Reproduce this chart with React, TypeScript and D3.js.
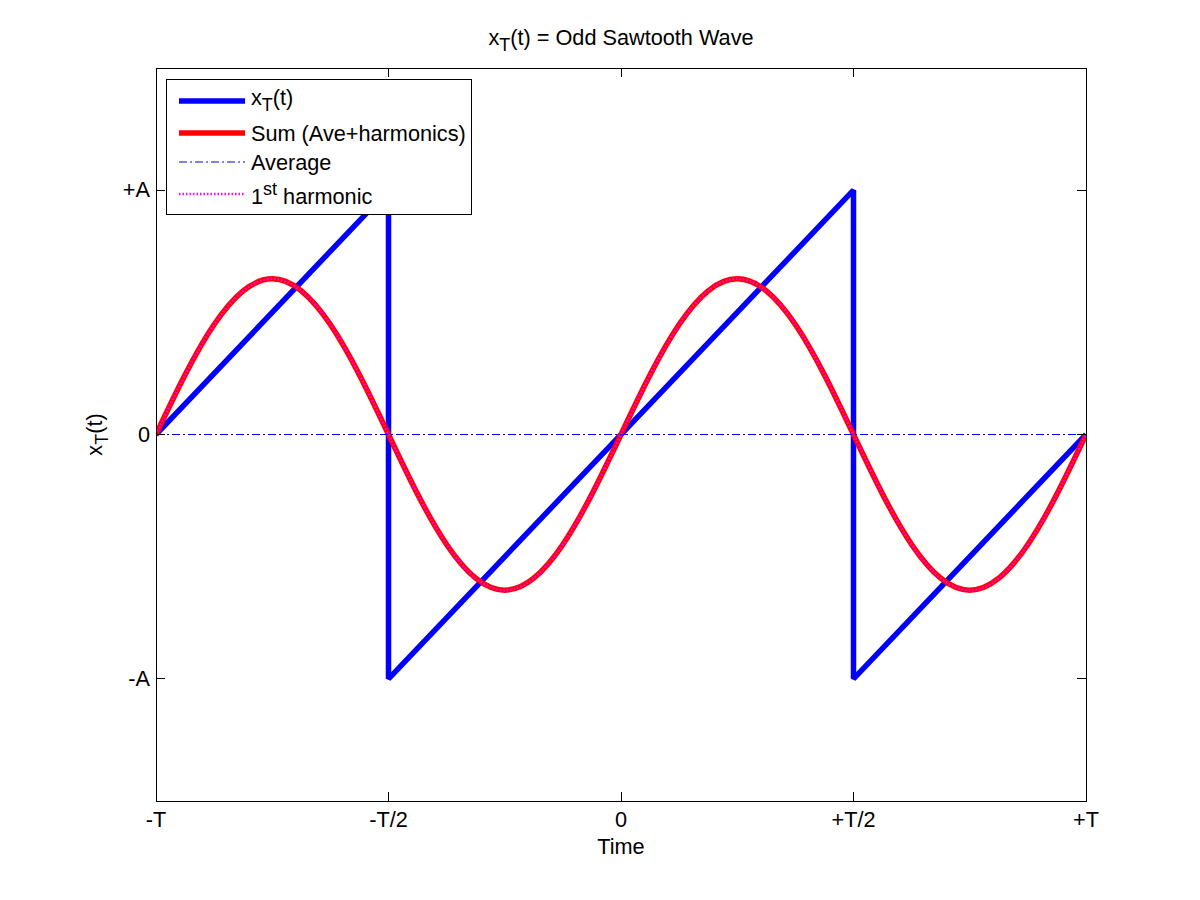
import React from 'react';
import * as d3 from 'd3';

// time in units of T, amplitude in units of A
const sawT = [-1, -0.5, -0.5, 0.5, 0.5, 1];
const sawX = [0, 1, -1, 1, -1, 0];

// 1st harmonic every T/16 (peak ~0.64 A)
const harmT = [
  -1, -0.9375, -0.875, -0.8125, -0.75, -0.6875, -0.625, -0.5625, -0.5,
  -0.4375, -0.375, -0.3125, -0.25, -0.1875, -0.125, -0.0625, 0,
  0.0625, 0.125, 0.1875, 0.25, 0.3125, 0.375, 0.4375, 0.5,
  0.5625, 0.625, 0.6875, 0.75, 0.8125, 0.875, 0.9375, 1,
];
const harmX = [
  0, 0.244, 0.45, 0.588, 0.637, 0.588, 0.45, 0.244, 0,
  -0.244, -0.45, -0.588, -0.637, -0.588, -0.45, -0.244, 0,
  0.244, 0.45, 0.588, 0.637, 0.588, 0.45, 0.244, 0,
  -0.244, -0.45, -0.588, -0.637, -0.588, -0.45, -0.244, 0,
];
const averageT = [-1, 1];
const averageX = [0, 0];

const xTicks = [-1, -0.5, 0, 0.5, 1];
const xTickLabels = ['-T', '-T/2', '0', '+T/2', '+T'];
const yTicks = [-1, 0, 1];
const yTickLabels = ['-A', '0', '+A'];

const W = 1200;
const H = 900;
const left = 156;
const right = 1086;
const top = 68;
const bottom = 801;
const font = '"Liberation Sans", Arial, Helvetica, sans-serif';
const fs = 21.7;
const sub = 18;
const tickLen = 9;

const App = () => {
  const x = d3.scaleLinear().domain([-1, 1]).range([left, right]);
  const y = d3.scaleLinear().domain([-1.5, 1.5]).range([bottom, top]);

  const line = d3.line<[number, number]>().x(d => x(d[0])).y(d => y(d[1]));
  const smooth = d3.line<[number, number]>().x(d => x(d[0])).y(d => y(d[1])).curve(d3.curveNatural);

  const sawPath = line(sawT.map((t, i) => [t, sawX[i]])) || '';
  const harmPath = smooth(harmT.map((t, i) => [t, harmX[i]])) || '';
  const avgPath = line(averageT.map((t, i) => [t, averageX[i]])) || '';

  // legend layout
  const lgX = 166, lgY = 79, lgW = 305, lgH = 135;
  const rows = [101, 133, 162, 194];

  return (
    <svg width={W} height={H} style={{ position: 'absolute', left: 0, top: 0, display: 'block', background: '#fff' }} fontFamily={font}>
      <rect x={0} y={0} width={W} height={H} fill="#fff" />
      <defs>
        <clipPath id="plotclip">
          <rect x={left} y={top} width={right - left} height={bottom - top} />
        </clipPath>
      </defs>

      <g clipPath="url(#plotclip)" fill="none">
        <path d={sawPath} stroke="#0000ff" strokeWidth={5.5} strokeLinejoin="bevel" />
        <path d={harmPath} stroke="#ff0000" strokeWidth={5.5} />
        <path d={avgPath} stroke="#0000ff" strokeWidth={1} strokeDasharray="8 3 2 3" />
        <path d={harmPath} stroke="#ff00ff" strokeWidth={2.5} strokeDasharray="1.5 2" />
      </g>

      {/* axes box */}
      <rect x={left} y={top} width={right - left} height={bottom - top} fill="none" stroke="#000" strokeWidth={1} shapeRendering="crispEdges" />

      {xTicks.map((t, i) => (
        <g key={'xt' + i}>
          <line x1={x(t)} x2={x(t)} y1={bottom} y2={bottom - tickLen} stroke="#000" shapeRendering="crispEdges" />
          <line x1={x(t)} x2={x(t)} y1={top} y2={top + tickLen} stroke="#000" shapeRendering="crispEdges" />
          <text x={x(t)} y={bottom + 26} textAnchor="middle" fontSize={fs}>{xTickLabels[i]}</text>
        </g>
      ))}
      {yTicks.map((t, i) => (
        <g key={'yt' + i}>
          <line x1={left} x2={left + tickLen} y1={y(t)} y2={y(t)} stroke="#000" shapeRendering="crispEdges" />
          <line x1={right} x2={right - tickLen} y1={y(t)} y2={y(t)} stroke="#000" shapeRendering="crispEdges" />
          <text x={left - 6} y={y(t) + 7} textAnchor="end" fontSize={fs}>{yTickLabels[i]}</text>
        </g>
      ))}

      {/* title */}
      <text x={(left + right) / 2} y={45} textAnchor="middle" fontSize={fs}>
        x<tspan dy={6} fontSize={sub}>T</tspan><tspan dy={-6}>(t) = Odd Sawtooth Wave</tspan>
      </text>

      {/* axis labels */}
      <text x={(left + right) / 2} y={854} textAnchor="middle" fontSize={fs}>Time</text>
      <text transform={`translate(102, ${y(0)}) rotate(-90)`} textAnchor="middle" fontSize={fs}>
        x<tspan dy={6} fontSize={sub}>T</tspan><tspan dy={-6}>(t)</tspan>
      </text>

      {/* legend */}
      <rect x={lgX} y={lgY} width={lgW} height={lgH} fill="#fff" stroke="#000" strokeWidth={1} shapeRendering="crispEdges" />
      <line x1={179} x2={245} y1={rows[0]} y2={rows[0]} stroke="#0000ff" strokeWidth={5.5} />
      <line x1={179} x2={245} y1={rows[1]} y2={rows[1]} stroke="#ff0000" strokeWidth={5.5} />
      <line x1={179} x2={245} y1={rows[2]} y2={rows[2]} stroke="#0000ff" strokeWidth={1} strokeDasharray="8 3 2 3" />
      <line x1={179} x2={245} y1={rows[3]} y2={rows[3]} stroke="#ff00ff" strokeWidth={2.5} strokeDasharray="1.5 2" />
      <text x={251} y={rows[0] + 4} fontSize={fs}>
        x<tspan dy={6} fontSize={sub}>T</tspan><tspan dy={-6}>(t)</tspan>
      </text>
      <text x={251} y={rows[1] + 8} fontSize={fs}>Sum (Ave+harmonics)</text>
      <text x={251} y={rows[2] + 8} fontSize={fs}>Average</text>
      <text x={251} y={rows[3] + 10} fontSize={fs}>
        1<tspan dy={-9} fontSize={sub}>st</tspan><tspan dy={9}> harmonic</tspan>
      </text>
    </svg>
  );
};

export default App;
